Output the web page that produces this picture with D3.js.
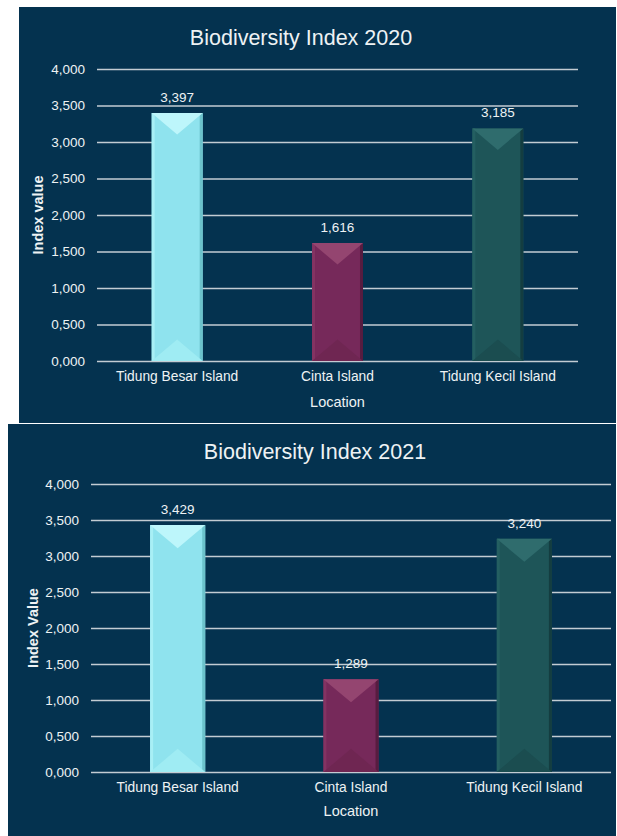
<!DOCTYPE html>
<html>
<head>
<meta charset="utf-8">
<script src="https://cdn.jsdelivr.net/npm/d3@7"></script>
<style>
  body { margin: 0; background: #ffffff; }
  svg text { font-family: "Liberation Sans", Arial, sans-serif; fill: #eef2f4; }
</style>
</head>
<body>
<div id="chart"></div>
<script>
const w = 617;
const h = 836;

// data
const locations = ["Tidung Besar Island", "Cinta Island", "Tidung Kecil Island"];
const index2020 = [3.397, 1.616, 3.185];
const index2021 = [3.429, 1.289, 3.240];
const yTicks = [0, 0.5, 1, 1.5, 2, 2.5, 3, 3.5, 4];

const barColors = [
    { base: "#8fe3ee", top: "#bdf6fb", bottom: "#9fecf3", left: "#a8eff5", right: "#6cc3cc" },
    { base: "#76295a", top: "#944570", bottom: "#6f2652", left: "#843362", right: "#571c40" },
    { base: "#1e5558", top: "#2f6c6d", bottom: "#1b4d50", left: "#245f61", right: "#143d40" }
];

const locale = d3.formatLocale({ decimal: ",", thousands: ".", grouping: [3], currency: ["", ""] });
const fmt = locale.format(".3f");

const svg = d3.select("#chart")
    .append("svg")
    .attr("width", w)
    .attr("height", h);

function drawPanel(p, title, yLabel, values) {
    svg.append("rect")
        .attr("x", p.x).attr("y", p.y)
        .attr("width", p.w).attr("height", p.h)
        .attr("fill", "#04324f");

    let xScale = d3.scaleBand()
        .domain(locations)
        .range([p.left, p.right])
        .paddingInner(0.682)
        .paddingOuter(0.341);

    let yScale = d3.scaleLinear()
        .domain([0, 4])
        .range([p.bottom, p.top]);

    // gridlines + tick labels
    let yAxis = d3.axisLeft(yScale)
        .tickValues(yTicks)
        .tickSize(-(p.right - p.left))
        .tickPadding(12)
        .tickFormat(fmt);

    let gy = svg.append("g")
        .attr("transform", "translate(" + p.left + ",0)")
        .call(yAxis);
    gy.select(".domain").remove();
    gy.selectAll("line").attr("stroke", "#c3ccd3").attr("stroke-width", 1.6);
    gy.selectAll("text").style("font-size", "13.5px").attr("fill", "#eef2f4");

    // bars
    const bars = svg.append("g");
    values.forEach((v, i) => {
        let x0 = xScale(locations[i]);
        let bw = xScale.bandwidth();
        let y0 = yScale(v);
        let bh = yScale(0) - y0;
        let c = barColors[i];
        let bev = Math.min(bw * 0.42, bh / 2);
        let g = bars.append("g");
        g.append("rect").attr("x", x0).attr("y", y0).attr("width", bw).attr("height", bh).attr("fill", c.base);
        g.append("rect").attr("x", x0).attr("y", y0).attr("width", 3).attr("height", bh).attr("fill", c.left);
        g.append("rect").attr("x", x0 + bw - 3).attr("y", y0).attr("width", 3).attr("height", bh).attr("fill", c.right);
        g.append("polygon")
            .attr("points", [[x0, y0], [x0 + bw, y0], [x0 + bw / 2, y0 + bev]].map(d => d.join(",")).join(" "))
            .attr("fill", c.top);
        g.append("polygon")
            .attr("points", [[x0, y0 + bh], [x0 + bw, y0 + bh], [x0 + bw / 2, y0 + bh - bev]].map(d => d.join(",")).join(" "))
            .attr("fill", c.bottom);

        svg.append("text")
            .attr("x", x0 + bw / 2)
            .attr("y", y0 - 11)
            .attr("text-anchor", "middle")
            .style("font-size", "13.5px")
            .text(fmt(v));
    });

    // category labels
    let xAxis = d3.axisBottom(xScale).tickSize(0).tickPadding(10);
    let gx = svg.append("g")
        .attr("transform", "translate(0," + p.bottom + ")")
        .call(xAxis);
    gx.select(".domain").remove();
    gx.selectAll("text").style("font-size", "13.8px").attr("fill", "#eef2f4");

    svg.append("text")
        .attr("x", p.titleX)
        .attr("y", p.titleY)
        .attr("text-anchor", "middle")
        .style("font-size", "21.5px")
        .text(title);

    svg.append("text")
        .attr("x", (p.left + p.right) / 2)
        .attr("y", p.locY)
        .attr("text-anchor", "middle")
        .style("font-size", "14.5px")
        .text("Location");

    svg.append("text")
        .attr("transform", "translate(" + p.yTitleX + "," + (p.top + p.bottom) / 2 + ") rotate(-90)")
        .attr("text-anchor", "middle")
        .style("font-size", "14.5px")
        .style("font-weight", "bold")
        .text(yLabel);
}

drawPanel({ x: 19, y: 7, w: 597, h: 416, left: 97, right: 578, top: 69, bottom: 361,
            titleX: 301, titleY: 45, locY: 407, yTitleX: 43 },
          "Biodiversity Index 2020", "Index value", index2020);

drawPanel({ x: 8, y: 424, w: 608, h: 412, left: 91, right: 611, top: 484, bottom: 772,
            titleX: 315, titleY: 459, locY: 816, yTitleX: 38 },
          "Biodiversity Index 2021", "Index Value", index2021);
</script>
</body>
</html>
